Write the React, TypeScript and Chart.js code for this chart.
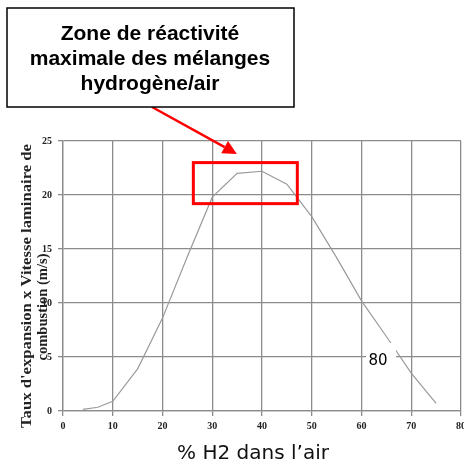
import React, { useEffect, useRef } from "react";
import { Chart, registerables } from "chart.js";

Chart.register(...registerables);

const h2Percent = [4, 7, 10, 15, 20, 25, 30, 35, 40, 45, 50, 55, 60, 65, 70, 75];
const speedValues = [0.15, 0.35, 0.9, 3.9, 8.6, 14.3, 19.8, 22.0, 22.2, 21.0, 18.0, 14.2, 10.2, 6.9, 3.5, 0.7];
const xTicks = [0, 10, 20, 30, 40, 50, 60, 70, 80];
const yTicks = [0, 5, 10, 15, 20, 25];
const calloutLines = ["Zone de réactivité", "maximale des mélanges", "hydrogène/air"];
const yTitleLines = ["Taux d'expansion x Vitesse laminaire de", "combustion (m/s)"];
const xTitle = "% H2 dans l\u2019air";
const strayLabel = "80";
// highlighted zone (data coords): x from, x to, y from, y to
const zoneX = [26.2, 47.1];
const zoneY = [19.2, 23.0];
const arrowTip = [34.95, 23.8];

function fitText(ctx: any, text: string, cx: number, cy: number, targetW: number, rotate: boolean) {
  const w = ctx.measureText(text).width;
  ctx.save();
  ctx.translate(cx, cy);
  if (rotate) ctx.rotate(-Math.PI / 2);
  ctx.scale(targetW / w, 1);
  ctx.fillText(text, 0, 0);
  ctx.restore();
}

const overlay = {
  id: "overlay",
  afterDraw(chart: any) {
    const ctx = chart.ctx;
    const xs = chart.scales.x;
    const ys = chart.scales.y;
    ctx.save();
    // stray label with white background
    ctx.fillStyle = "#fff";
    ctx.fillRect(366, 343, 30, 27);
    ctx.fillStyle = "#000";
    ctx.font = '15px "DejaVu Sans"';
    ctx.textAlign = "center";
    ctx.textBaseline = "middle";
    ctx.fillText(strayLabel, 378, 361);

    // red zone rectangle
    const x0 = xs.getPixelForValue(zoneX[0]);
    const x1 = xs.getPixelForValue(zoneX[1]);
    const y0 = ys.getPixelForValue(zoneY[1]);
    const y1 = ys.getPixelForValue(zoneY[0]);
    ctx.strokeStyle = "#ff0000";
    ctx.lineWidth = 3;
    ctx.strokeRect(x0, y0, x1 - x0, y1 - y0);

    // arrow
    const tx = xs.getPixelForValue(arrowTip[0]);
    const ty = ys.getPixelForValue(arrowTip[1]);
    const sx = 152, sy = 107;
    const ang = Math.atan2(ty - sy, tx - sx);
    const headLen = 14, headW = 7;
    const bx = tx - headLen * Math.cos(ang);
    const by = ty - headLen * Math.sin(ang);
    ctx.lineWidth = 2.5;
    ctx.beginPath();
    ctx.moveTo(sx, sy);
    ctx.lineTo(bx, by);
    ctx.stroke();
    ctx.fillStyle = "#ff0000";
    ctx.beginPath();
    ctx.moveTo(tx, ty);
    ctx.lineTo(bx + headW * Math.sin(ang), by - headW * Math.cos(ang));
    ctx.lineTo(bx - headW * Math.sin(ang), by + headW * Math.cos(ang));
    ctx.closePath();
    ctx.fill();

    // callout box
    ctx.fillStyle = "#fff";
    ctx.fillRect(7, 8, 287, 99);
    ctx.strokeStyle = "#000";
    ctx.lineWidth = 1.5;
    ctx.strokeRect(7, 8, 287, 99);
    ctx.fillStyle = "#000";
    ctx.font = 'bold 21px "Liberation Sans"';
    ctx.textAlign = "center";
    ctx.textBaseline = "alphabetic";
    const ly = [39.5, 64.5, 89.5];
    calloutLines.forEach((t, i) => ctx.fillText(t, 150, ly[i]));

    // y title
    ctx.font = 'bold 15px "Liberation Serif"';
    ctx.fillStyle = "#222";
    ctx.textBaseline = "middle";
    fitText(ctx, yTitleLines[0], 27, 286, 284, true);
    fitText(ctx, yTitleLines[1], 43, 307, 107, true);

    // x title
    ctx.font = '20px "DejaVu Sans"';
    ctx.fillStyle = "#111";
    ctx.textBaseline = "alphabetic";
    ctx.fillText(xTitle, 253, 459);
    ctx.restore();
  },
};

export default function App() {
  const ref = useRef<HTMLCanvasElement>(null);
  useEffect(() => {
    const chart = new Chart(ref.current!, {
      type: "line",
      data: {
        datasets: [
          {
            data: h2Percent.map((x, i) => ({ x, y: speedValues[i] })),
            borderColor: "#9a9a9a",
            borderWidth: 1.2,
            pointRadius: 0,
            tension: 0,
            fill: false,
          },
        ],
      },
      options: {
        animation: false,
        responsive: false,
        maintainAspectRatio: false,
        layout: { padding: { left: 0, top: 141, right: 3, bottom: 0 } },
        plugins: { legend: { display: false }, tooltip: { enabled: false } },
        scales: {
          x: {
            type: "linear",
            min: 0,
            max: 80,
            afterBuildTicks: (s: any) => {
              s.ticks = xTicks.map((v) => ({ value: v }));
            },
            afterFit: (s: any) => {
              s.height = 53;
              s.paddingLeft = 0;
              s.paddingRight = 0;
            },
            grid: { color: "#8c8c8c", lineWidth: 1.3, tickLength: 5, drawTicks: true },
            border: { color: "#8c8c8c", width: 1.3 },
            ticks: {
              color: "#222",
              font: { family: "Liberation Serif", size: 10, weight: "bold" },
              padding: 4,
              maxRotation: 0,
            },
          },
          y: {
            type: "linear",
            min: 0,
            max: 25,
            afterBuildTicks: (s: any) => {
              s.ticks = yTicks.map((v) => ({ value: v }));
            },
            afterFit: (s: any) => {
              s.width = 63;
              s.paddingTop = 0;
              s.paddingBottom = 0;
            },
            grid: { color: "#8c8c8c", lineWidth: 1.3, tickLength: 5, drawTicks: true },
            border: { color: "#8c8c8c", width: 1.3 },
            ticks: {
              color: "#222",
              font: { family: "Liberation Serif", size: 10, weight: "bold" },
              padding: 6,
            },
          },
        },
      },
      plugins: [overlay],
    });
    return () => chart.destroy();
  }, []);
  return (
    <div style={{ position: "absolute", left: 0, top: 0, width: 464, height: 464, background: "#fff" }}>
      <canvas ref={ref} width={464} height={464} style={{ width: 464, height: 464 }} />
    </div>
  );
}
